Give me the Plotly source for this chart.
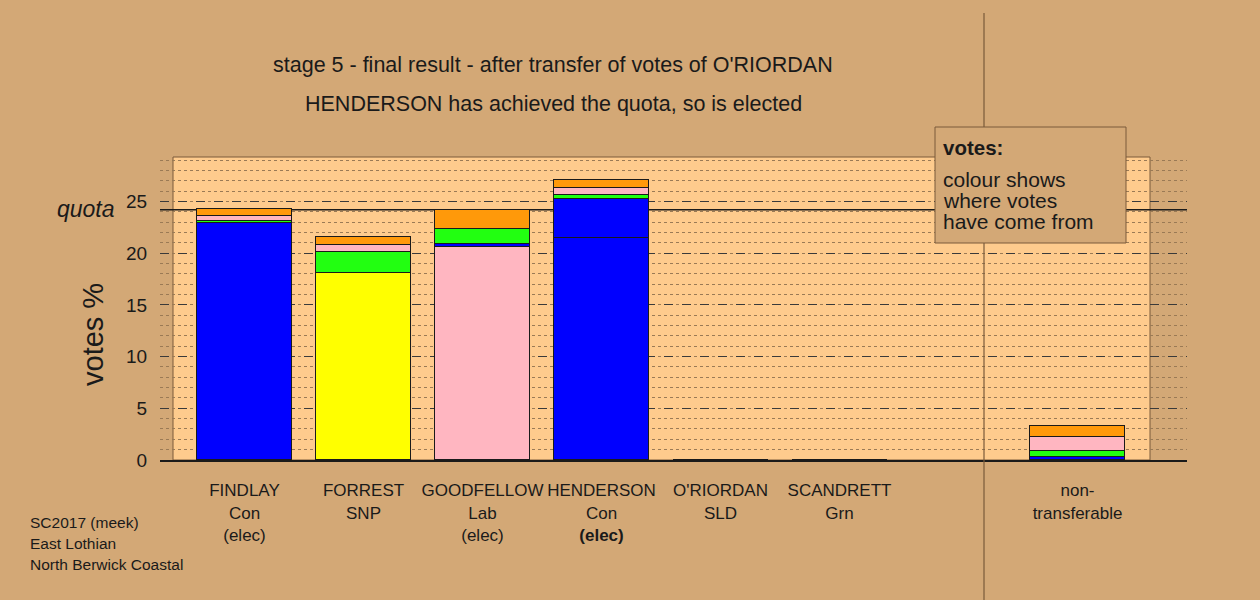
import plotly.graph_objects as go

# ---------------- data ----------------
candidates = ["FINDLAY", "FORREST", "GOODFELLOW", "HENDERSON", "O'RIORDAN", "SCANDRETT", "non-transferable"]
tick_labels = [
    "FINDLAY<br>Con<br>(elec)",
    "FORREST<br>SNP",
    "GOODFELLOW<br>Lab<br>(elec)",
    "HENDERSON<br>Con<br><b>(elec)</b>",
    "O'RIORDAN<br>SLD",
    "SCANDRETT<br>Grn",
    "non-<br>transferable",
]
positions = [0, 1, 2, 3, 4, 5, 7]

first_pref_colours = ["#0000ff", "#ffff00", "#ffb6c1", "#0000ff", "#ff990a", "#22ff11", "#0000ff"]
first_pref = [22.95, 18.10, 20.60, 21.50, 0.0, 0.0, 0.30]
from_findlay = [0.0, 0.0, 0.30, 3.75, 0.0, 0.0, 0.0]
from_scandrett = [0.15, 2.05, 1.40, 0.40, 0.0, 0.0, 0.55]
from_goodfellow = [0.45, 0.65, 0.0, 0.70, 0.0, 0.0, 1.35]
from_oriordan = [0.75, 0.75, 1.90, 0.70, 0.0, 0.0, 1.05]

quota = 24.2
y_ticks = [0, 5, 10, 15, 20, 25]

title_lines = [
    "stage 5 - final result - after transfer of votes of O'RIORDAN",
    "HENDERSON has achieved the quota, so is elected",
]
note_lines = ["SC2017 (meek)", "East Lothian", "North Berwick Coastal"]
legend_lines = ["colour shows", "where votes", "have come from"]

# ---------------- style ----------------
BG = "#d3a876"
PANEL = "#fecb8d"
DARK = "#1a1a1a"
BROWN = "#7a5a3a"
FONT = "Liberation Sans, Arial, sans-serif"

W, H = 1260, 600
L, R, T, B = 160, 1260 - 1187, 157, 600 - 460
pw, ph = W - L - R, H - T - B


def px_x(p):
    return (p - L) / pw


def px_y(p):
    return (H - B - p) / ph


fig = go.Figure()

segments = [
    (first_pref, first_pref_colours, "first preferences"),
    (from_findlay, "#0000ff", "from FINDLAY"),
    (from_scandrett, "#22ff11", "from SCANDRETT"),
    (from_goodfellow, "#ffb6c1", "from GOODFELLOW"),
    (from_oriordan, "#ff990a", "from O'RIORDAN"),
]
for vals, col, name in segments:
    fig.add_trace(go.Bar(
        x=positions, y=vals, name=name, width=0.8,
        marker=dict(color=col, line=dict(color=DARK, width=1)),
        showlegend=False,
    ))

fig.update_layout(
    width=W, height=H,
    margin=dict(l=L, r=R, t=T, b=B),
    paper_bgcolor=BG, plot_bgcolor=BG,
    barmode="stack", bargap=0,
    font=dict(family=FONT, color=DARK),
    xaxis=dict(
        range=[-0.71, 7.92], tickvals=positions, ticktext=tick_labels,
        showgrid=False, zeroline=False, showline=True, linecolor=DARK, linewidth=2,
        ticks="outside", ticklen=14, tickcolor="rgba(0,0,0,0)",
        tickfont=dict(size=17, family=FONT, color=DARK),
    ),
    yaxis=dict(
        range=[0, 29.3], tickvals=y_ticks, zeroline=False,
        showgrid=True, gridcolor="#3a3a3a", gridwidth=1, griddash="dash",
        minor=dict(dtick=1, showgrid=True, gridcolor="#9a7a55", gridwidth=1, griddash="dot"),
        ticks="outside", ticklen=8, tickcolor="rgba(0,0,0,0)",
        tickfont=dict(size=19, family=FONT, color=DARK),
    ),
)

shapes = [
    # panel
    dict(type="rect", xref="paper", yref="paper", x0=px_x(173), x1=px_x(1150), y0=0, y1=1,
         fillcolor=PANEL, line=dict(color=BROWN, width=1), layer="below"),
    # quota line
    dict(type="line", xref="paper", yref="y", x0=0, x1=1, y0=quota, y1=quota,
         line=dict(color=DARK, width=1.5), layer="between"),
    # separator
    dict(type="line", xref="paper", yref="paper", x0=px_x(984), x1=px_x(984), y0=px_y(600), y1=px_y(13),
         line=dict(color=BROWN, width=1.2), layer="above"),
    # legend box
    dict(type="rect", xref="paper", yref="paper", x0=px_x(935), x1=px_x(1126), y0=px_y(243), y1=px_y(127),
         fillcolor=BG, line=dict(color=BROWN, width=1), layer="above"),
]
fig.update_layout(shapes=shapes)

ann = []
for txt, yp in zip(title_lines, [65, 104]):
    ann.append(dict(text=txt, xref="paper", yref="paper", x=px_x(553), y=px_y(yp),
                    xanchor="center", yanchor="middle", showarrow=False, font=dict(size=21.5)))
ann.append(dict(text="<b>votes:</b>", xref="paper", yref="paper", x=px_x(941), y=px_y(147),
                xanchor="left", yanchor="middle", showarrow=False, font=dict(size=20.5)))
for txt, yp in zip(legend_lines, [179, 200, 221]):
    ann.append(dict(text=txt, xref="paper", yref="paper", x=px_x(941), y=px_y(yp),
                    xanchor="left", yanchor="middle", showarrow=False, font=dict(size=21)))
for txt, yp in zip(note_lines, [522, 543, 564]):
    ann.append(dict(text=txt, xref="paper", yref="paper", x=px_x(28), y=px_y(yp),
                    xanchor="left", yanchor="middle", showarrow=False, font=dict(size=15.5)))
ann.append(dict(text="<i>quota</i>", xref="paper", yref="paper", x=px_x(117), y=px_y(209),
                xanchor="right", yanchor="middle", showarrow=False, font=dict(size=23)))
ann.append(dict(text="votes %", xref="paper", yref="paper", x=px_x(93), y=px_y(335),
                xanchor="center", yanchor="middle", textangle=-90, showarrow=False, font=dict(size=29)))
fig.update_layout(annotations=ann)

fig.write_html("out.html", config={"displayModeBar": False},
               post_script="document.body.style.margin='0';")
